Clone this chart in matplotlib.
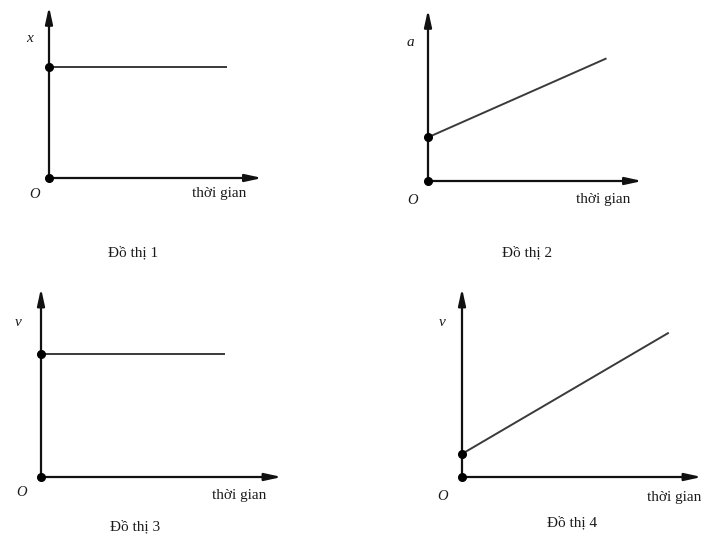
import matplotlib.pyplot as plt

# four sketch graphs, time on x, quantity on y (axes run 0..1)
titles = ["Đồ thị 1", "Đồ thị 2", "Đồ thị 3", "Đồ thị 4"]
y_names = ["x", "a", "v", "v"]
t_end = [0.85, 0.85, 0.78, 0.88]
val_start = [0.66, 0.26, 0.665, 0.125]
val_end = [0.66, 0.73, 0.665, 0.78]

W, H = 725, 556
# origin (px), axis length x, axis length y (px)
boxes = [(49, 178, 209, 168), (428, 181, 210, 168),
         (41, 477, 236, 185), (462, 477, 235, 185)]
# text offsets from origin in pixels: y-name, O, x-name, title
off_name = [(-19, 140), (-18, 139), (-23, 154), (-20, 154)]
off_o = [(-14, -17), (-15, -19), (-19, -16), (-19, -20)]
off_time = [(170, -15), (175, -18), (198, -18), (212, -20)]
off_title = [(84, -75), (99, -72), (94, -50), (110, -46)]

plt.rcParams['font.family'] = ['Liberation Serif', 'DejaVu Serif']

fig = plt.figure(figsize=(W / 100, H / 100), dpi=100)
fig.patch.set_facecolor('white')

for i in range(4):
    ox, oy, lx, ly = boxes[i]
    ax = fig.add_axes([ox / W, 1 - oy / H, lx / W, ly / H])
    ax.set_xlim(0, 1)
    ax.set_ylim(0, 1)
    ax.axis('off')

    # arrow heads stop a little short of xy, so push them out a touch
    arrow = dict(arrowstyle='-|>,head_length=1.0,head_width=0.22', color='#111111',
                 lw=1.6, shrinkA=0, shrinkB=0)
    ax.annotate("", xy=(1.02, 0), xytext=(0, 0), arrowprops=arrow, annotation_clip=False)
    ax.annotate("", xy=(0, 1.02), xytext=(0, 0), arrowprops=arrow, annotation_clip=False)

    ax.plot([0, t_end[i]], [val_start[i], val_end[i]], color='#3a3a3a', lw=1.4,
            clip_on=False, solid_capstyle='butt')
    ax.plot([0, 0], [0, val_start[i]], 'o', color='black', ms=5.5, clip_on=False, zorder=5)

    def put(s, off, **kw):
        ax.annotate(s, xy=(0, 0), xytext=off, textcoords='offset pixels',
                    ha='center', va='center', annotation_clip=False,
                    color='#1a1a1a', **kw)

    put(y_names[i], off_name[i], fontsize=11, style='italic')
    put("O", off_o[i], fontsize=10.5, style='italic')
    put("thời gian", off_time[i], fontsize=11)
    put(titles[i], off_title[i], fontsize=11)

fig.savefig("out.png", dpi=100, facecolor='white')
